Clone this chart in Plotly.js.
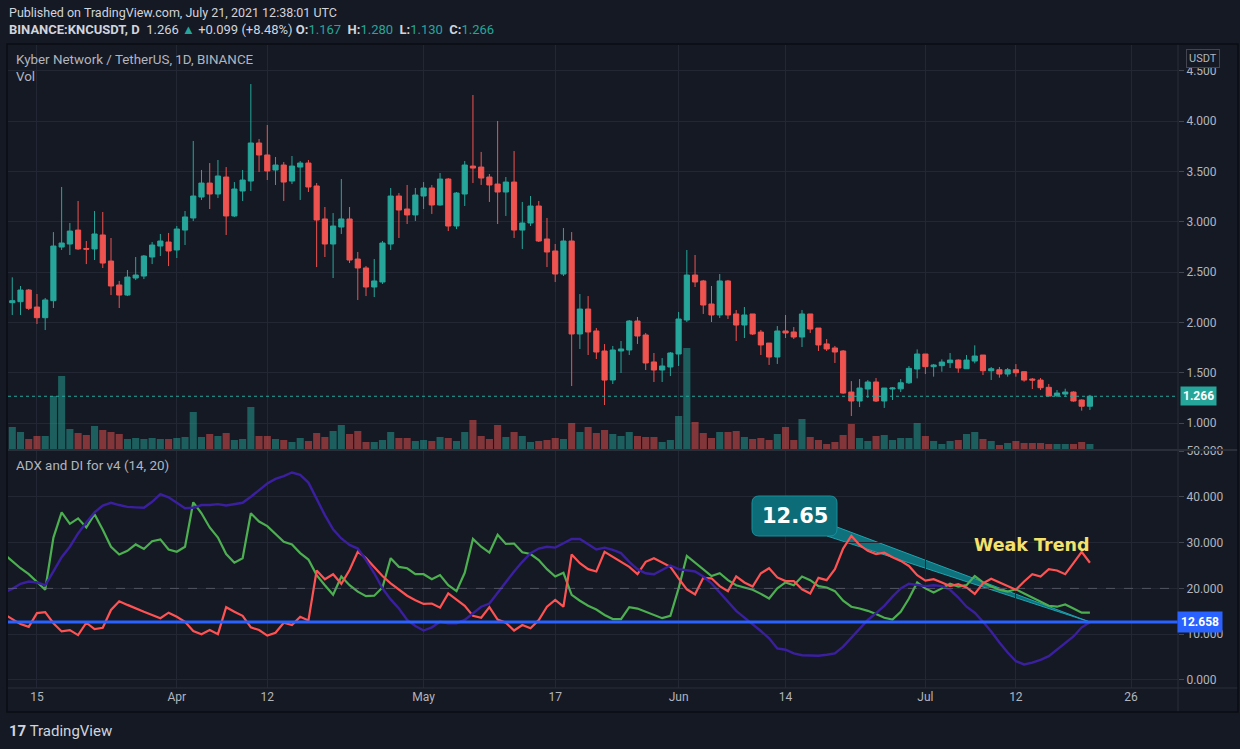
<!DOCTYPE html>
<html><head><meta charset="utf-8">
<script src="https://cdn.plot.ly/plotly-3.0.1.min.js"></script>
<style>html,body{margin:0;padding:0;background:#151924;}#chart{width:1240px;height:749px;}</style>
</head><body><div id="chart"></div>
<script>
// ---- DATA (daily candles from 2021-03-12 to 2021-07-21) ----
const firstDay = [2021, 2, 12];
const opens = [2.196,2.206,2.322,2.153,2.047,2.216,2.749,2.779,2.918,2.735,2.730,2.869,2.610,2.372,2.272,2.441,2.461,2.650,2.759,2.799,2.720,2.918,3.038,3.246,3.385,3.276,3.445,3.058,3.306,3.405,3.783,3.664,3.515,3.564,3.405,3.544,3.584,3.356,3.028,2.779,2.948,3.028,2.630,2.541,2.352,2.402,2.779,3.256,3.127,3.068,3.256,3.336,3.167,3.425,2.958,3.276,3.554,3.544,3.445,3.375,3.296,3.395,2.918,2.988,3.157,2.829,2.710,2.481,2.809,1.885,2.133,1.915,1.716,1.428,1.716,1.726,2.014,1.875,1.607,1.527,1.557,1.686,2.024,2.471,2.412,2.183,2.074,2.412,2.084,1.974,2.084,1.904,1.795,1.656,1.915,1.905,1.855,2.084,1.944,1.786,1.746,1.716,1.308,1.219,1.338,1.408,1.219,1.338,1.340,1.400,1.537,1.686,1.560,1.570,1.600,1.626,1.540,1.616,1.676,1.520,1.530,1.487,1.530,1.510,1.437,1.427,1.355,1.271,1.288,1.308,1.229,1.167];
const highs = [2.448,2.362,2.332,2.282,2.243,2.898,3.346,2.988,3.207,2.809,3.107,3.097,2.839,2.412,2.521,2.650,2.670,2.799,2.879,2.889,2.958,3.107,3.803,3.515,3.584,3.614,3.544,3.395,3.515,4.369,3.823,3.962,3.644,3.594,3.654,3.604,3.614,3.385,3.147,3.087,3.425,3.147,2.700,2.560,2.630,2.809,3.336,3.286,3.366,3.336,3.395,3.366,3.485,3.435,3.296,3.604,4.260,3.694,3.475,4.002,3.445,3.703,3.197,3.256,3.207,3.038,2.779,2.938,2.898,2.282,2.262,1.944,1.785,1.766,1.815,2.024,2.054,1.895,1.696,1.646,1.706,2.104,2.720,2.670,2.422,2.362,2.481,2.422,2.123,2.153,2.084,1.925,1.795,1.964,2.074,1.954,2.123,2.084,1.944,1.835,1.766,1.726,1.417,1.437,1.427,1.447,1.348,1.358,1.437,1.566,1.732,1.686,1.587,1.633,1.696,1.633,1.676,1.772,1.676,1.557,1.557,1.547,1.586,1.510,1.447,1.447,1.388,1.328,1.341,1.315,1.235,1.280];
const lows = [2.074,2.074,2.123,1.984,1.924,2.143,2.720,2.670,2.720,2.580,2.620,2.541,2.272,2.143,2.262,2.421,2.431,2.580,2.660,2.560,2.640,2.769,3.008,3.217,3.127,3.236,2.869,3.048,3.207,3.306,3.495,3.415,3.366,3.207,3.375,3.217,3.296,2.550,2.650,2.441,2.879,2.590,2.223,2.262,2.252,2.382,2.720,2.839,2.978,3.008,3.127,3.078,3.160,2.908,2.928,3.157,3.385,3.366,3.197,2.978,3.058,2.839,2.730,2.958,2.799,2.550,2.402,2.461,1.368,1.736,1.676,1.636,1.179,1.388,1.497,1.676,1.786,1.527,1.408,1.408,1.467,1.567,2.004,2.352,2.084,2.004,2.044,2.034,1.815,1.845,1.875,1.676,1.577,1.587,1.845,1.835,1.756,1.895,1.716,1.716,1.597,1.290,1.070,1.159,1.249,1.209,1.150,1.229,1.308,1.388,1.444,1.487,1.461,1.510,1.547,1.500,1.540,1.593,1.477,1.428,1.451,1.461,1.461,1.411,1.338,1.328,1.268,1.258,1.261,1.212,1.123,1.130];
const closes = [2.216,2.322,2.140,2.047,2.223,2.759,2.789,2.908,2.730,2.728,2.879,2.590,2.362,2.272,2.451,2.471,2.660,2.769,2.809,2.710,2.928,3.048,3.256,3.385,3.276,3.455,3.058,3.326,3.415,3.783,3.664,3.505,3.564,3.395,3.554,3.584,3.346,3.018,2.779,2.958,3.028,2.620,2.541,2.352,2.412,2.789,3.256,3.117,3.068,3.266,3.336,3.167,3.425,2.958,3.286,3.564,3.534,3.435,3.366,3.296,3.395,2.918,2.988,3.157,2.809,2.700,2.481,2.809,1.885,2.133,1.905,1.706,1.427,1.726,1.736,2.014,1.865,1.597,1.527,1.567,1.696,2.034,2.471,2.402,2.173,2.074,2.412,2.074,1.974,2.074,1.885,1.776,1.656,1.915,1.895,1.855,2.084,1.934,1.776,1.736,1.706,1.298,1.219,1.348,1.408,1.219,1.348,1.348,1.400,1.543,1.686,1.560,1.577,1.606,1.626,1.547,1.626,1.666,1.520,1.540,1.487,1.530,1.500,1.427,1.427,1.351,1.268,1.298,1.308,1.219,1.167,1.266];
const volumes = [22,17,10,13,13,53,73,20,16,14,23,19,17,15,10,11,10,11,10,10,11,12,37,12,15,13,16,9,10,42,13,13,10,9,7,11,8,16,12,18,24,15,18,7,7,9,17,11,11,8,9,8,12,11,8,17,29,13,10,24,12,17,13,7,8,9,11,10,26,17,22,16,19,15,13,17,13,12,12,7,9,33,101,27,16,11,17,17,18,12,10,11,9,15,22,9,30,12,9,5,7,14,25,11,8,13,14,9,11,11,26,13,8,5,8,9,15,17,10,8,4,6,8,6,6,6,5,5,5,5,7,5];
// indicator series start one day earlier (2021-03-11)
const indFirstDay = [2021, 2, 11];
const plusDI = [27.5,25.9,24.4,23.1,21.3,19.7,31.1,36.6,34.1,35.3,33.3,36.2,32.8,29.1,27.4,28.2,29.6,28.6,30.3,30.7,28.5,28.0,29.1,38.8,36.4,33.3,31.1,27.5,25.6,26.6,36.4,34.6,33.6,32.0,30.2,29.6,27.7,26.3,22.9,20.7,18.6,22.6,20.7,19.3,18.3,18.4,20.2,26.6,24.7,24.4,23.1,23.1,22.0,22.9,20.7,19.4,23.4,30.8,29.1,27.8,31.7,29.7,29.8,27.9,27.5,26.2,24.2,22.6,23.4,18.6,17.3,16.2,15.4,14.2,13.3,13.3,15.9,15.6,14.9,14.2,13.5,14.0,20.0,27.1,25.6,24.2,22.7,23.3,21.8,20.7,20.2,19.7,18.8,17.8,20.0,21.3,20.7,22.6,21.8,20.5,20.2,19.4,17.3,16.0,15.6,15.1,14.4,13.6,13.2,14.9,17.8,21.3,20.0,19.1,20.0,21.0,20.4,20.7,22.7,21.3,20.4,19.7,19.3,19.8,18.9,18.0,17.1,16.2,16.0,16.5,15.6,14.7,14.7];
const minusDI = [14.4,13.3,12.2,11.6,14.6,14.8,12.4,10.6,10.9,9.8,12.5,11.1,11.4,15.3,17.2,16.4,15.6,14.9,14.2,13.5,14.7,13.8,12.7,10.7,10.0,10.9,10.0,15.9,14.9,14.0,11.5,10.9,9.7,10.3,12.5,12.0,13.8,13.0,23.9,22.0,23.1,21.0,24.0,28.0,26.6,24.6,22.7,21.1,19.8,18.4,17.4,16.6,16.7,15.8,18.9,17.6,16.2,14.0,13.6,15.9,13.2,12.5,10.8,12.0,11.3,13.1,16.0,17.5,16.0,27.4,25.5,24.2,23.7,28.0,26.9,25.8,24.7,23.1,25.8,26.6,25.7,24.7,22.2,19.8,18.7,22.3,22.2,20.5,19.4,22.6,21.3,20.4,23.3,24.4,22.4,21.6,21.6,19.8,18.9,22.3,21.8,24.2,28.7,31.5,29.5,28.2,27.5,27.8,26.8,26.0,24.9,22.9,21.7,22.0,21.3,20.5,20.9,20.2,18.8,21.1,22.1,21.3,20.6,19.7,21.5,23.1,22.6,24.2,23.9,23.1,25.5,28.0,25.6];
const adx = [19.1,19.9,21.0,21.5,21.3,20.7,23.7,26.8,29.1,32.0,34.4,36.6,38.1,38.7,38.2,37.8,37.7,37.6,38.9,40.6,39.9,38.6,37.5,37.6,38.2,38.2,38.4,38.1,38.4,38.7,40.0,41.5,42.9,43.9,44.5,45.3,44.8,43.1,39.4,36.0,32.9,30.9,29.5,28.7,26.2,23.3,20.0,17.6,15.6,13.1,11.8,10.8,11.5,12.7,12.4,12.4,13.1,14.6,16.0,16.7,19.1,21.3,23.7,25.8,27.7,28.7,29.1,28.9,29.8,30.8,30.8,29.6,28.5,28.9,28.4,27.7,25.8,24.2,23.3,23.1,24.0,25.0,24.2,24.0,23.7,22.6,21.1,19.1,17.1,15.1,13.6,12.2,10.7,9.1,6.9,6.6,5.8,5.4,5.3,5.3,5.5,5.8,7.3,9.3,11.3,13.1,14.6,16.2,18.2,20.0,21.0,20.7,20.5,20.7,20.5,19.7,18.0,16.0,14.7,12.7,10.6,8.2,6.0,4.1,3.4,3.8,4.4,5.2,6.6,7.9,9.5,11.5,12.6];
const lastPrice = 1.266;
const adxLevel = 12.658;
const keyLevel = 20;
const tickDates = ['2021-03-15','2021-04-01','2021-04-12','2021-05-01','2021-05-17','2021-06-01','2021-06-14','2021-07-01','2021-07-12','2021-07-26'];
const tickLabels = ['15','Apr','12','May','17','Jun','14','Jul','12','26'];
const priceTicks = [1.0,1.5,2.0,2.5,3.0,3.5,4.0,4.5];
const adxTicks = [0,10,20,30,40,50];

// ---- build ----
const dayList = (start, n) => Array.from({length: n}, (_, i) =>
  new Date(Date.UTC(start[0], start[1], start[2] + i)).toISOString().slice(0, 10));
const dates = dayList(firstDay, opens.length);
const indDates = dayList(indFirstDay, adx.length);
const UP = '#26a69a', DN = '#ef5350';
const volColors = closes.map((c, i) => c >= opens[i] ? 'rgba(38,166,154,0.5)' : 'rgba(239,83,80,0.5)');

// pixel -> paper helpers (plot area: x 8..1178, y 45..688)
const X = p => (p - 8) / 1170;
const Y = p => (688 - p) / 643;

const TXT = '#b2b5be', GRID = '#232733', FONT = 'Roboto, "Open Sans", sans-serif';
const BOLDF = '"DejaVu Sans", Roboto, sans-serif';

const traces = [
  {type: 'bar', x: dates, y: volumes, marker: {color: volColors, line: {width: 0}},
   width: 0.86 * 86400000, xaxis: 'x', yaxis: 'y', hoverinfo: 'skip'},
  {type: 'candlestick', x: dates, open: opens, high: highs, low: lows, close: closes,
   xaxis: 'x', yaxis: 'y2', whiskerwidth: 0,
   increasing: {line: {color: UP, width: 1}, fillcolor: UP},
   decreasing: {line: {color: DN, width: 1}, fillcolor: DN}, hoverinfo: 'skip'},
  {type: 'scatter', mode: 'lines', x: indDates, y: plusDI, xaxis: 'x', yaxis: 'y3',
   line: {color: '#4caf50', width: 2.2}, hoverinfo: 'skip'},
  {type: 'scatter', mode: 'lines', x: indDates, y: minusDI, xaxis: 'x', yaxis: 'y3',
   line: {color: '#ff5252', width: 2.2}, hoverinfo: 'skip'},
  {type: 'scatter', mode: 'lines', x: indDates, y: adx, xaxis: 'x', yaxis: 'y3',
   line: {color: '#3a1f9e', width: 2.4}, hoverinfo: 'skip'}
];

// rounded label box (pixel geometry -> paper)
function roundRect(x0, y0, x1, y1, r) {
  return `M ${X(x0 + r)} ${Y(y0)} L ${X(x1 - r)} ${Y(y0)} Q ${X(x1)} ${Y(y0)} ${X(x1)} ${Y(y0 + r)} ` +
         `L ${X(x1)} ${Y(y1 - r)} Q ${X(x1)} ${Y(y1)} ${X(x1 - r)} ${Y(y1)} ` +
         `L ${X(x0 + r)} ${Y(y1)} Q ${X(x0)} ${Y(y1)} ${X(x0)} ${Y(y1 - r)} ` +
         `L ${X(x0)} ${Y(y0 + r)} Q ${X(x0)} ${Y(y0)} ${X(x0 + r)} ${Y(y0)} Z`;
}
const tip = [X(1090), Y(622)];
const layout = {
  width: 1240, height: 749,
  margin: {l: 8, r: 62, t: 45, b: 61, pad: 0},
  paper_bgcolor: '#151924', plot_bgcolor: 'rgba(0,0,0,0)',
  showlegend: false, boxgap: 0.1, boxgroupgap: 0.3, bargap: 0.1,
  font: {family: FONT, color: TXT, size: 12},
  xaxis: {type: 'date', range: ['2021-03-11 11:30', '2021-07-31 17:00'],
    tickvals: tickDates, ticktext: tickLabels, anchor: 'y3',
    showgrid: true, gridcolor: GRID, gridwidth: 1, zeroline: false, showline: false,
    ticks: '', tickfont: {color: TXT, size: 12, family: FONT},
    rangeslider: {visible: false}, fixedrange: true},
  yaxis: {domain: [Y(449), 1], range: [0, 404], visible: false, fixedrange: true},
  yaxis2: {overlaying: 'y', side: 'right', anchor: 'x', range: [0.742, 4.757],
    tickvals: priceTicks, tickformat: '.3f', showgrid: true, gridcolor: GRID,
    zeroline: false, ticks: 'outside', ticklen: 5, tickcolor: '#434651',
    tickfont: {color: TXT, size: 12, family: FONT}, fixedrange: true},
  yaxis3: {domain: [0, Y(451)], side: 'right', anchor: 'x', range: [-1.75, 50.0],
    tickvals: adxTicks, tickformat: '.3f', showgrid: true, gridcolor: GRID,
    zeroline: false, ticks: 'outside', ticklen: 5, tickcolor: '#434651',
    tickfont: {color: TXT, size: 12, family: FONT}, fixedrange: true},
  shapes: [
    // callout wedge (below the indicator lines)
    {type: 'path', xref: 'paper', yref: 'paper', layer: 'below',
     path: `M ${X(827)} ${Y(536)} L ${X(837)} ${Y(527)} L ${tip[0]} ${tip[1]} Z`,
     fillcolor: '#0e717c', line: {color: '#1fa3ae', width: 1}},
    {type: 'path', xref: 'paper', yref: 'paper', layer: 'above',
     path: roundRect(752, 496, 837, 536, 7),
     fillcolor: '#0c6c77', line: {color: '#178f9a', width: 1}},
    {type: 'line', xref: 'paper', yref: 'y2', x0: 0, x1: 1, y0: lastPrice, y1: lastPrice,
     line: {color: UP, width: 1, dash: 'dot'}},
    {type: 'line', xref: 'paper', yref: 'y3', x0: 0, x1: 1, y0: keyLevel, y1: keyLevel,
     line: {color: 'rgba(120,123,134,0.55)', width: 1, dash: 'dash'}},
    {type: 'line', xref: 'paper', yref: 'y3', x0: 0, x1: 1, y0: adxLevel, y1: adxLevel,
     line: {color: '#2962ff', width: 3}},
    // pane separator
    {type: 'line', xref: 'paper', yref: 'paper', x0: X(8), x1: X(1238), y0: Y(450), y1: Y(450),
     line: {color: '#2a2e39', width: 2}},
    // right axis border
    {type: 'line', xref: 'paper', yref: 'paper', x0: 1, x1: 1, y0: Y(712), y1: Y(44),
     line: {color: '#2a2e39', width: 1}},
    // time axis border
    {type: 'line', xref: 'paper', yref: 'paper', x0: X(7), x1: X(1238), y0: 0, y1: 0,
     line: {color: '#2a2e39', width: 1}},
    // outer frame
    {type: 'rect', xref: 'paper', yref: 'paper', x0: X(7), x1: X(1238), y0: Y(712), y1: Y(44),
     line: {color: '#0b0d13', width: 1.5}}
  ],
  annotations: [
    {xref: 'paper', yref: 'paper', x: X(7), y: Y(12), xanchor: 'left', yanchor: 'middle', showarrow: false,
     text: 'Published on TradingView.com, July 21, 2021 12:38:01 UTC', font: {size: 12.5, color: '#d1d4dc'}},
    {xref: 'paper', yref: 'paper', x: X(7), y: Y(29), xanchor: 'left', yanchor: 'middle', showarrow: false,
     text: '<b>BINANCE:KNCUSDT, D</b>&nbsp; 1.266 <span style="color:#26a69a">▲</span> +0.099 (+8.48%) <b>O:</b><span style="color:#26a69a">1.167</span>&nbsp; <b>H:</b><span style="color:#26a69a">1.280</span>&nbsp; <b>L:</b><span style="color:#26a69a">1.130</span>&nbsp; <b>C:</b><span style="color:#26a69a">1.266</span>',
     font: {size: 13, color: '#d1d4dc'}},
    {xref: 'paper', yref: 'paper', x: X(14), y: Y(60), xanchor: 'left', yanchor: 'middle', showarrow: false,
     text: 'Kyber Network / TetherUS, 1D, BINANCE', font: {size: 13.4, color: TXT}},
    {xref: 'paper', yref: 'paper', x: X(14), y: Y(77), xanchor: 'left', yanchor: 'middle', showarrow: false,
     text: 'Vol', font: {size: 13.4, color: TXT}},
    {xref: 'paper', yref: 'paper', x: X(14), y: Y(466), xanchor: 'left', yanchor: 'middle', showarrow: false,
     text: 'ADX and DI for v4 (14, 20)', font: {size: 13.4, color: TXT}},
    {xref: 'paper', yref: 'paper', x: X(1186), y: Y(59), xanchor: 'left', yanchor: 'middle', showarrow: false,
     text: 'USDT', font: {size: 11, color: TXT}, bgcolor: '#151924', bordercolor: '#434651', borderwidth: 1, borderpad: 2},
    {xref: 'paper', yref: 'y2', x: X(1180), y: lastPrice, xanchor: 'left', yanchor: 'middle', showarrow: false,
     text: '<b>1.266</b>', font: {size: 12, color: '#ffffff'}, bgcolor: UP, borderpad: 2},
    {xref: 'paper', yref: 'y3', x: X(1177), y: adxLevel, xanchor: 'left', yanchor: 'middle', showarrow: false,
     text: '<b>12.658</b>', font: {size: 12, color: '#ffffff'}, bgcolor: '#2962ff', borderpad: 3},
    {xref: 'paper', yref: 'paper', x: X(794.5), y: Y(516), xanchor: 'center', yanchor: 'middle', showarrow: false,
     text: '<b>12.65</b>', font: {size: 21, color: '#ffffff', family: BOLDF}},
    {xref: 'paper', yref: 'paper', x: X(1032), y: Y(545), xanchor: 'center', yanchor: 'middle', showarrow: false,
     text: '<b>Weak Trend</b>', font: {size: 17.5, color: '#f5e26b', family: BOLDF}},
    {xref: 'paper', yref: 'paper', x: X(7), y: Y(731), xanchor: 'left', yanchor: 'middle', showarrow: false,
     text: '<b>17</b> TradingView', font: {size: 15, color: '#d1d4dc'}}
  ]
};

Plotly.newPlot('chart', traces, layout, {staticPlot: true, displayModeBar: false});
</script></body></html>
